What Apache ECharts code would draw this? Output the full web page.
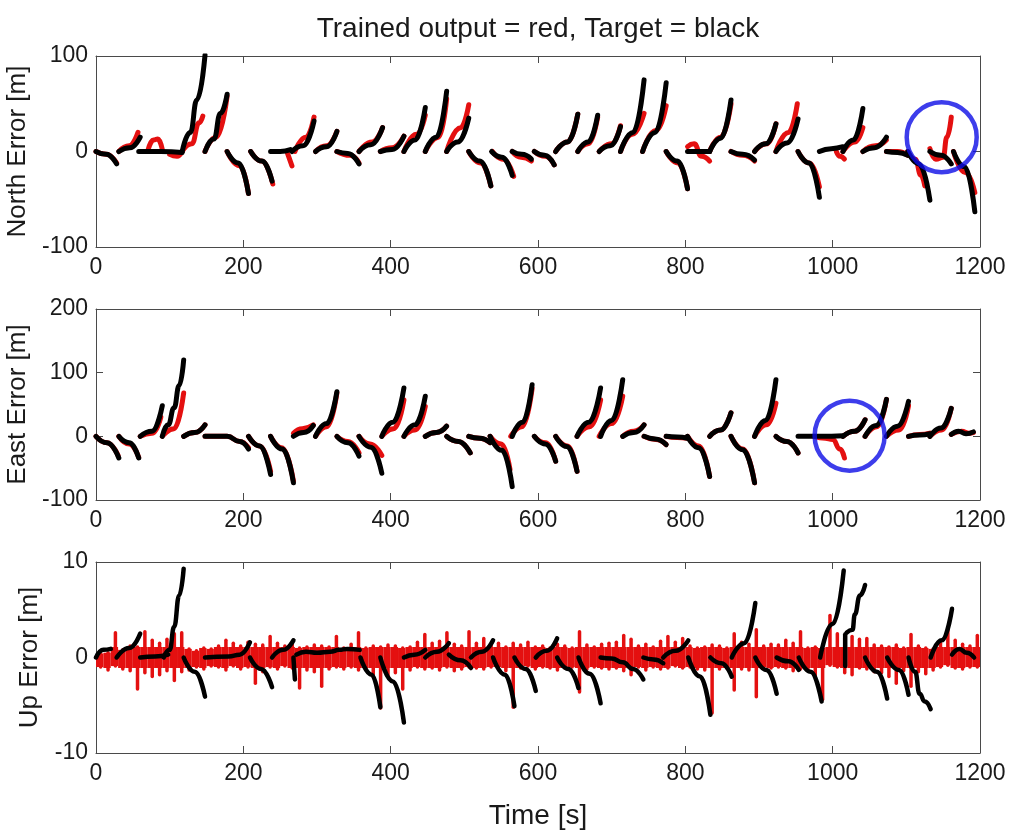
<!DOCTYPE html>
<html><head><meta charset="utf-8">
<script src="https://cdn.jsdelivr.net/npm/echarts/dist/echarts.min.js"></script>
<style>html,body{margin:0;padding:0;background:#fff}#c{width:1010px;height:832px}</style>
</head><body><div id="c"></div>
<script>
const titleText = 'Trained output = red, Target = black';
const xTickInterval = 200;
const yNames = ['North Error [m]', 'East Error [m]', 'Up Error [m]'];
const yRanges = [[-100, 100, 100], [-100, 200, 100], [-10, 10, 10]];

// North error: target (black) segments
const northTarget = [
 [[0,0],[14,-3],[28,-13]],
 [[31,0],[46,4],[60,15]],
 [[58,0],[88,0],[117,-1]],
 [[117,0],[128,20],[137,54],[148,101]],
 [[148,0],[160,13],[169,40],[178,60]],
 [[178,0],[193,-12],[207,-44]],
 [[210,0],[225,-10],[239,-31]],
 [[237,0],[250,0],[264,2]],
 [[266,0],[281,6],[296,32]],
 [[298,0],[313,5],[327,21]],
 [[327,0],[342,-2],[357,-13]],
 [[357,0],[373,7],[389,25]],
 [[386,0],[402,2],[418,16]],
 [[418,0],[433,12],[447,46]],
 [[447,0],[462,15],[476,63]],
 [[476,0],[491,10],[506,35]],
 [[506,0],[521,-10],[536,-36]],
 [[537,0],[551,-6],[565,-25]],
 [[565,0],[578,-3],[591,-8]],
 [[595,0],[609,-4],[622,-14]],
 [[624,0],[640,10],[654,39]],
 [[654,0],[668,10],[681,38]],
 [[683,0],[698,6],[712,26]],
 [[712,0],[729,20],[744,75]],
 [[742,0],[759,20],[774,72]],
 [[774,0],[789,-10],[803,-39]],
 [[803,0],[818,0],[833,0]],
 [[833,0],[848,14],[862,54]],
 [[862,0],[878,-3],[894,-9]],
 [[894,0],[909,8],[923,29]],
 [[923,0],[938,9],[953,34]],
 [[953,0],[968,-12],[982,-48]],
 [[982,0],[998,3],[1014,5]],
 [[1014,0],[1028,12],[1041,45]],
 [[1041,0],[1057,4],[1073,15]],
 [[1073,0],[1088,-1],[1102,-4]],
 [[1102,0],[1117,-13],[1132,-51]],
 [[1132,0],[1147,-4],[1161,-13]],
 [[1164,0],[1179,-16],[1193,-63]]
];
// North error: trained output (red) segments
const northOutput = [
 [[0,0],[14,-3],[28,-12]],
 [[31,0],[45,6],[57,20]],
 [[70,0],[78,12],[84,13],[90,2]],
 [[100,-3],[110,-5],[117,0]],
 [[117,0],[130,8],[140,30],[145,37]],
 [[148,0],[163,15],[178,58]],
 [[178,0],[195,-15],[207,-44]],
 [[210,0],[225,-10],[240,-34]],
 [[260,-2],[266,-15]],
 [[270,0],[285,15],[296,36]],
 [[298,0],[313,6],[327,21]],
 [[327,0],[345,-4],[357,-12]],
 [[357,0],[375,10],[389,25]],
 [[386,0],[402,4],[418,16]],
 [[418,0],[435,18],[447,38]],
 [[447,0],[465,15],[476,55]],
 [[476,0],[495,25],[506,49]],
 [[506,0],[522,-12],[536,-36]],
 [[538,0],[553,-8],[567,-26]],
 [[565,0],[577,-6],[591,-10]],
 [[595,0],[610,-5],[622,-14]],
 [[624,0],[640,10],[654,39]],
 [[654,0],[668,8],[681,36]],
 [[683,0],[700,8],[712,27]],
 [[712,0],[728,18],[744,40]],
 [[742,0],[760,22],[774,48]],
 [[774,0],[790,-12],[803,-39]],
 [[803,5],[812,8],[822,-5],[833,-10]],
 [[833,0],[848,15],[862,50]],
 [[862,0],[878,-4],[894,-10]],
 [[894,0],[910,8],[923,29]],
 [[923,0],[940,20],[952,50]],
 [[953,0],[968,-12],[982,-37]],
 [[1005,0],[1010,-5],[1016,-8]],
 [[1014,0],[1030,10],[1041,25]],
 [[1041,0],[1058,6],[1073,12]],
 [[1073,0],[1088,0],[1102,-4]],
 [[1102,0],[1112,-8],[1120,-25],[1125,-36]],
 [[1132,3],[1140,-8],[1150,-6],[1155,15],[1161,36]],
 [[1164,0],[1180,-22],[1193,-43]]
];

// East error: target (black) segments
const eastTarget = [
 [[0,0],[15,-10],[31,-34]],
 [[31,0],[45,-10],[58,-34]],
 [[60,0],[76,8],[90,48]],
 [[90,0],[98,18],[106,45],[113,80],[119,120]],
 [[119,0],[134,6],[148,18]],
 [[148,0],[178,0],[195,-8],[207,-20]],
 [[207,0],[222,-15],[237,-60]],
 [[237,0],[253,-20],[268,-73]],
 [[268,0],[282,6],[295,17]],
 [[298,0],[313,20],[327,70]],
 [[327,0],[342,-10],[357,-31]],
 [[357,0],[373,-17],[388,-58]],
 [[388,0],[403,22],[418,76]],
 [[418,0],[433,18],[447,63]],
 [[447,0],[462,6],[476,16]],
 [[476,0],[492,-8],[508,-26]],
 [[506,0],[521,-3],[535,-10]],
 [[535,0],[551,-22],[565,-79]],
 [[565,0],[579,22],[592,81]],
 [[595,0],[610,-12],[624,-39]],
 [[624,0],[639,-16],[653,-55]],
 [[653,0],[669,22],[685,76]],
 [[685,0],[700,25],[715,89]],
 [[715,0],[730,6],[744,18]],
 [[744,0],[759,-4],[774,-13]],
 [[774,0],[789,-1],[803,-3]],
 [[803,0],[818,-18],[833,-63]],
 [[833,0],[848,10],[862,37]],
 [[862,0],[878,-21],[894,-73]],
 [[894,0],[909,25],[923,89]],
 [[923,0],[938,-8],[953,-26]],
 [[953,0],[983,0],[1014,1]],
 [[1014,0],[1030,8],[1044,26]],
 [[1044,0],[1059,17],[1073,58]],
 [[1073,0],[1088,16],[1103,55]],
 [[1103,0],[1118,2],[1132,4]],
 [[1132,0],[1147,13],[1161,44]],
 [[1161,3],[1171,8],[1181,4],[1191,7]]
];
// East error: trained output (red) segments
const eastOutput = [
 [[0,0],[15,-10],[30,-30]],
 [[31,0],[45,-12],[58,-33]],
 [[60,0],[76,5],[88,30]],
 [[90,0],[106,12],[119,68]],
 [[119,0],[134,6],[148,18]],
 [[148,0],[178,0],[195,-8],[207,-18]],
 [[207,0],[222,-15],[237,-55]],
 [[237,0],[252,-18],[268,-70]],
 [[268,5],[280,12],[295,18]],
 [[298,0],[313,15],[327,68]],
 [[327,0],[342,-8],[357,-26]],
 [[357,0],[372,-12],[388,-30]],
 [[388,0],[404,12],[418,57]],
 [[418,0],[433,10],[447,47]],
 [[447,0],[462,6],[476,16]],
 [[476,0],[492,-8],[508,-26]],
 [[506,0],[520,-3],[535,-10]],
 [[535,0],[550,-12],[562,-52]],
 [[563,0],[578,15],[592,75]],
 [[595,0],[610,-10],[624,-39]],
 [[624,0],[640,-15],[653,-55]],
 [[653,0],[670,15],[685,57]],
 [[683,0],[700,20],[715,63]],
 [[715,0],[730,8],[744,18]],
 [[744,0],[760,-5],[774,-13]],
 [[774,0],[789,-2],[803,-3]],
 [[803,0],[818,-15],[833,-63]],
 [[833,0],[848,10],[862,37]],
 [[862,0],[878,-20],[894,-73]],
 [[894,0],[910,18],[923,52]],
 [[923,0],[938,-8],[953,-26]],
 [[975,0],[990,-3],[1000,-5],[1010,-20],[1016,-34]],
 [[1014,0],[1030,8],[1044,26]],
 [[1044,0],[1060,15],[1073,58]],
 [[1073,0],[1090,10],[1103,48]],
 [[1103,0],[1118,3],[1132,5]],
 [[1132,0],[1148,10],[1161,44]],
 [[1161,3],[1175,8],[1185,5],[1191,6]]
];

// Up error: target (black) segments
const upTarget = [
 [[0,0],[10,0.8],[20,0.9]],
 [[28,0],[45,1.0],[60,2.5]],
 [[60,0],[80,0.1],[98,0.3]],
 [[92,0],[100,0.8],[106,3.2],[113,6.5],[119,9.3]],
 [[119,0],[134,-1.5],[148,-4.1]],
 [[148,0],[180,0.1],[195,0.3],[209,1.6]],
 [[209,0],[224,-1.2],[239,-3.1]],
 [[239,0],[254,0.8],[268,1.8]],
 [[268,0],[270,-2.3]],
 [[272,0.3],[285,0.6],[300,0.5],[318,0.6],[330,0.8],[341,0.9],[358,0.8]],
 [[359,0],[374,-1.8],[386,-5.2]],
 [[386,0],[403,-2.5],[418,-6.8]],
 [[418,0],[432,0.3],[447,0.8]],
 [[447,0],[463,0.6],[479,1.5]],
 [[479,0.3],[495,-0.3],[509,-1.1]],
 [[509,0],[524,0.6],[539,1.8]],
 [[539,0],[555,-1.8],[568,-5.1]],
 [[568,0],[583,-1.2],[597,-3.5]],
 [[597,0],[612,0.7],[626,2.0]],
 [[626,0],[641,-1.2],[655,-3.2]],
 [[655,0],[670,-1.7],[685,-4.8]],
 [[685,0],[700,-0.1],[715,-0.5],[729,-1.2],[743,-2.3]],
 [[743,0],[757,-0.2],[770,-0.6]],
 [[770,0],[787,0.7],[804,1.8]],
 [[804,0],[820,-2.0],[834,-6.0]],
 [[834,0],[849,-0.6],[863,-2.0]],
 [[863,0],[880,1.5],[895,5.7]],
 [[895,0],[910,-1.3],[924,-3.8]],
 [[924,0],[940,-0.4],[954,-1.3]],
 [[954,0],[970,-1.5],[985,-4.6]],
 [[983,0],[1000,3.5],[1015,9.1]],
 [[1017,2.4],[1017,-0.9]],
 [[1019,2.6],[1027,2.9],[1030,4.5],[1037,6.5],[1044,7.6]],
 [[1044,0],[1060,-1.5],[1074,-4.3]],
 [[1074,0],[1090,-1.3],[1103,-3.9]],
 [[1103,0],[1112,-1.5],[1118,-3.8],[1125,-4.6],[1133,-5.4]],
 [[1133,0],[1148,1.8],[1162,5.1]],
 [[1162,0.3],[1172,0.9],[1182,0.5],[1192,0]]
];
// Up error: trained output (red) scatter, upper and lower extent per 10 s bin
const upBinStart = 0, upBinWidth = 10;
const upOutputHi = [
 0.4,0.5,2.6,0.8,1.2,1.1,2.7,1.8,1.5,1.9,
 2.5,2.6,0.9,0.7,1.0,0.9,1.2,1.8,1.5,1.2,
 1.6,1.4,1.3,2.2,1.5,1.2,1.4,1.0,1.1,1.3,
 1.2,1.1,2.2,1.0,1.4,2.6,1.0,1.2,1.1,1.3,
 1.2,1.0,1.1,1.6,2.4,1.5,1.7,2.6,1.4,1.2,
 2.7,1.5,2.0,1.3,1.5,1.1,1.5,1.3,1.6,1.1,
 1.2,1.0,1.4,1.2,1.0,2.7,1.3,1.1,1.4,1.5,
 1.6,2.3,1.9,1.2,1.4,1.1,1.7,2.2,1.6,2.0,
 1.2,1.0,1.1,1.3,1.2,1.0,2.5,1.6,1.4,2.9,
 1.2,1.4,1.3,1.8,1.5,2.7,1.0,1.1,1.0,4.4,
 2.5,2.0,2.2,1.9,2.0,1.3,1.2,1.1,1.3,1.0,
 2.4,1.2,1.0,0.9,1.5,3.0,1.8,1.4,1.2,2.3
];
const upOutputLo = [
 -1.0,-1.3,-0.9,-1.2,-1.4,-3.3,-1.6,-2.0,-1.8,-1.4,
 -2.4,-1.5,-1.3,-1.0,-1.2,-0.9,-1.0,-1.3,-0.9,-1.2,
 -1.0,-2.7,-1.5,-1.0,-1.2,-0.9,-1.1,-3.2,-1.3,-1.5,
 -3.0,-1.2,-1.0,-1.2,-1.0,-1.3,-1.1,-1.8,-5.3,-2.0,
 -1.6,-3.3,-1.3,-1.0,-1.2,-1.1,-1.3,-1.0,-1.4,-1.2,
 -1.0,-1.1,-1.2,-1.0,-1.0,-1.4,-5.2,-1.1,-0.9,-1.2,
 -1.0,-1.1,-1.3,-1.1,-1.0,-3.6,-1.2,-1.0,-1.1,-1.2,
 -1.1,-1.4,-1.8,-1.0,-1.3,-1.0,-1.2,-1.1,-0.9,-1.1,
 -1.0,-1.2,-1.3,-5.8,-1.2,-1.1,-3.4,-1.2,-1.3,-4.1,
 -1.0,-1.1,-1.0,-1.1,-1.4,-1.2,-1.4,-2.0,-4.4,-0.8,
 -1.0,-1.6,-1.8,-1.1,-1.2,-1.5,-1.6,-2.0,-2.7,-1.4,
 -3.0,-1.5,-1.7,-1.3,-1.0,-0.8,-1.1,-1.2,-1.0,-1.0
];
// Highlight circles [x, y] in data units (North, East)
const circleNorth = [1148, 15];
const circleEast = [1023, 1];

const RED = '#e41010', BLACK = '#000000', BLUE = '#0c0ce6';
const FONT = 'Liberation Sans, Arial, sans-serif';
const tops = [56, 309, 562], H = 191;

const grid = tops.map(t => ({left: 96, width: 884, top: t, height: H, containLabel: false, outerBoundsMode: 'none'}));
const xAxis = [], yAxis = [];
tops.forEach((t, i) => {
  const base = {
    gridIndex: i, type: 'value', min: 0, max: 1200, interval: xTickInterval,
    axisLine: {show: true, onZero: false, lineStyle: {color: '#4a4a4a', width: 1}},
    axisTick: {show: true, inside: true, length: 7, lineStyle: {color: '#4a4a4a'}},
    splitLine: {show: false}
  };
  xAxis.push(Object.assign({}, base, {position: 'bottom',
    axisLabel: {show: true, fontSize: 23, color: '#1a1a1a', fontFamily: FONT, margin: 9, formatter: v => String(v)},
    name: i === 2 ? 'Time [s]' : '', nameLocation: 'middle', nameGap: 49,
    nameTextStyle: {fontSize: 28, color: '#1a1a1a', fontFamily: FONT}}));
  xAxis.push(Object.assign({}, base, {position: 'top', axisLabel: {show: false}}));
  const [mn, mx, iv] = yRanges[i];
  const ybase = {
    gridIndex: i, type: 'value', min: mn, max: mx, interval: iv,
    axisLine: {show: true, onZero: false, lineStyle: {color: '#4a4a4a', width: 1}},
    axisTick: {show: true, inside: true, length: 7, lineStyle: {color: '#4a4a4a'}},
    splitLine: {show: false}
  };
  yAxis.push(Object.assign({}, ybase, {position: 'left',
    axisLabel: {show: true, fontSize: 23, color: '#1a1a1a', fontFamily: FONT, margin: 8, formatter: v => String(v)},
    name: yNames[i], nameLocation: 'middle', nameGap: 53, nameRotate: 90,
    nameTextStyle: {fontSize: 26, color: '#1a1a1a', fontFamily: FONT}}));
  yAxis.push(Object.assign({}, ybase, {position: 'right', axisLabel: {show: false}}));
});

const series = [];
function addSegs(segs, plot, color, z, width) {
  segs.forEach(seg => series.push({
    type: 'line', xAxisIndex: plot * 2, yAxisIndex: plot * 2, data: seg,
    smooth: 0.5, smoothMonotone: 'x', showSymbol: false, symbol: 'none', clip: true,
    lineStyle: {color: color, width: width, cap: 'round', join: 'round'}, z: z, silent: true
  }));
}
addSegs(northOutput, 0, RED, 2, 5);
addSegs(northTarget, 0, BLACK, 3, 5);
addSegs(eastOutput, 1, RED, 2, 5);
addSegs(eastTarget, 1, BLACK, 3, 5);

// Up: red scatter extents (dense core + thin outlying spikes)
const CORE = 1.1;
const upRedData = upOutputHi.map((h, k) => [upBinStart + k * upBinWidth + upBinWidth / 2, h, upOutputLo[k]]);
series.push({
  type: 'custom', xAxisIndex: 4, yAxisIndex: 4, z: 2, silent: true, data: upRedData,
  renderItem: (params, api) => {
    const x = api.value(0), hi = api.value(1), lo = api.value(2);
    const c1 = api.coord([x, Math.min(hi, CORE)]), c2 = api.coord([x, Math.max(lo, -CORE)]);
    const p1 = api.coord([x, hi]), p2 = api.coord([x, lo]);
    const w = api.size([upBinWidth, 0])[0];
    return {type: 'group', children: [
      {type: 'rect', shape: {x: c1[0] - w / 2, y: c1[1], width: w, height: c2[1] - c1[1]}, style: {fill: RED}},
      {type: 'line', shape: {x1: p1[0] + 1, y1: p1[1], x2: p2[0] + 1, y2: p2[1]}, style: {stroke: RED, lineWidth: 3.5, lineCap: 'round'}}
    ]};
  }
});
addSegs(upTarget, 2, BLACK, 3, 4.5);

// Blue circles
[[circleNorth, 0], [circleEast, 1]].forEach(([c, p]) => series.push({
  type: 'scatter', xAxisIndex: p * 2, yAxisIndex: p * 2, data: [c], symbol: 'circle', symbolSize: 70,
  itemStyle: {color: 'rgba(0,0,0,0)', borderColor: BLUE, borderWidth: 4.5}, z: 10, silent: true
}));

const chart = echarts.init(document.getElementById('c'), null, {renderer: 'canvas'});
chart.setOption({
  animation: false, backgroundColor: '#ffffff',
  graphic: [{type: 'text', x: 538, y: 15, z: 20,
    style: {text: titleText, fill: '#1a1a1a', font: '28px Liberation Sans, Arial, sans-serif', align: 'center', textAlign: 'center', verticalAlign: 'top'}}],
  grid, xAxis, yAxis, series
});
</script></body></html>
